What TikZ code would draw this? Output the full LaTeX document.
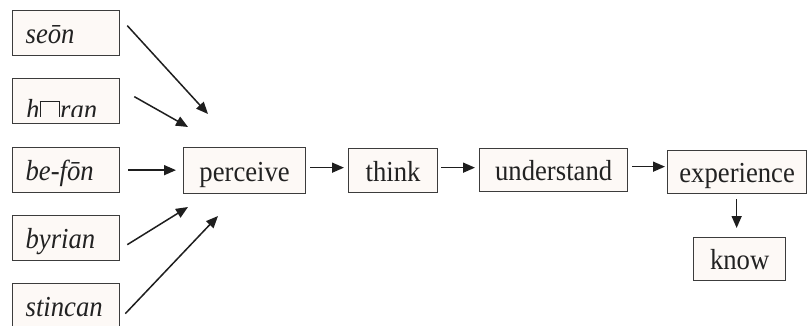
\documentclass[tikz,border=0pt]{standalone}
\usepackage{fontspec}
\setmainfont[FakeStretch=0.92]{Liberation Serif}
\usetikzlibrary{arrows.meta}
\definecolor{boxfill}{HTML}{FDF9F6}
\definecolor{boxline}{HTML}{3C3C3C}
\definecolor{arrowink}{HTML}{1E1E1E}
\definecolor{textink}{HTML}{222222}
% hollow square standing in for an unrenderable letter
\newcommand{\hollowsq}{{\setlength\fboxsep{0pt}\setlength\fboxrule{1.3pt}\fbox{\rule{0pt}{17pt}\hspace{18pt}}}}
\tikzset{
  wordbox/.style={draw=boxline, fill=boxfill, line width=1.3pt, inner sep=0pt,
    anchor=north west, text=textink, font=\fontsize{29}{33}\selectfont,
    text height=25pt, text depth=4pt},
  oebox/.style={wordbox, inner xsep=13pt, text width=81pt, align=left,
    minimum height=45pt, font=\fontsize{29}{33}\selectfont\itshape},
  arr/.style={draw=arrowink, line width=1.5pt,
    -{Triangle[length=12pt,width=10pt]}}
}
\begin{document}
\begin{tikzpicture}[x=1pt,y=-1pt]
\clip (0,0) rectangle (807,325);
\fill[white] (0,0) rectangle (807,325);

% Old English verbs
\node[oebox] (seon)    at (12,10)  {seōn};
\node[oebox] (hyran)   at (12,78)  {};
\node[oebox] (befon)   at (12,147) {be-fōn};
\node[oebox] (byrian)  at (12,215) {byrian};
\node[oebox] (stincan) at (12,283) {stincan};

% the h-ran label is cut off by its frame
\begin{scope}
  \clip ([shift={(1pt,-1pt)}]hyran.north west) rectangle (118,116);
  \node[anchor=base west, inner sep=0pt, text=textink, font=\fontsize{29}{33}\selectfont\itshape]
    (hyranlabel) at (26,119) {h\hollowsq ran};
\end{scope}

% chain of meanings
\node[wordbox, minimum width=122pt, minimum height=46pt] (perceive)   at (183,147) {perceive};
\node[wordbox, minimum width=89pt,  minimum height=44pt] (think)      at (348,148) {think};
\node[wordbox, minimum width=148pt, minimum height=43pt] (understand) at (479,148) {understand};
\node[wordbox, minimum width=139pt, minimum height=43pt] (experience) at (667,150) {experience};
\node[wordbox, minimum width=92pt,  minimum height=43pt] (know)       at (693,237) {know};

% free arrow tips near "perceive"
\coordinate (tipseon)    at (208,114);
\coordinate (tiphyran)   at (188,127);
\coordinate (tipbyrian)  at (188,207);
\coordinate (tipstincan) at (218,216);

\draw[arr] ([shift={(7pt,7.5pt)}]seon.east) -- (tipseon);
\draw[arr] ([shift={(14pt,4.5pt)}]hyran.east) -- (tiphyran);
\draw[arr, shorten <=8pt, shorten >=7pt] (befon.east) -- (perceive.west |- befon.east);
\draw[arr] ([shift={(7pt,-6.5pt)}]byrian.east) -- (tipbyrian);
\draw[arr] ([shift={(5pt,-7.5pt)}]stincan.east) -- (tipstincan);

\draw[arr, shorten <=4pt, shorten >=4pt] ([yshift=3pt]perceive.east) -- ([yshift=3pt]perceive.east -| think.west);
\draw[arr, shorten <=3pt, shorten >=4pt] ([yshift=3pt]think.east) -- ([yshift=3pt]think.east -| understand.west);
\draw[arr, shorten <=4pt, shorten >=2pt] ([yshift=3.5pt]understand.east) -- ([yshift=3.5pt]understand.east -| experience.west);
\draw[arr, shorten <=5pt, shorten >=9pt] ([xshift=-3pt]know.north |- experience.south) -- ([xshift=-3pt]know.north);
\end{tikzpicture}
\end{document}
